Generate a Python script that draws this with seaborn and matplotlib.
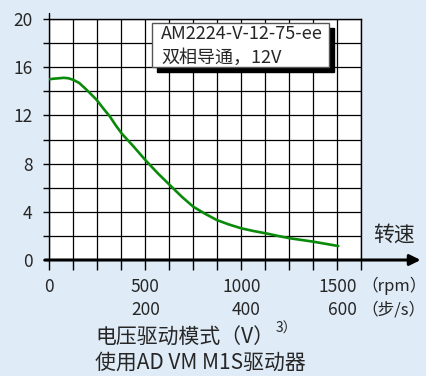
import matplotlib
matplotlib.use("Agg")
import matplotlib.pyplot as plt
import seaborn as sns
import numpy as np
import pandas as pd
from matplotlib.patches import Rectangle

# torque curve
speed_rpm = [0, 25, 50, 75, 100, 125, 155, 186, 215, 247, 280, 316, 345, 377,
             440, 500, 565, 629, 690, 750, 810, 872, 935, 1000, 1065, 1132,
             1190, 1254, 1315, 1375, 1440, 1505]
torque = [15.0, 15.05, 15.08, 15.12, 15.08, 14.95, 14.7, 14.25, 13.8, 13.28,
          12.6, 11.9, 11.2, 10.5, 9.4, 8.3, 7.2, 6.2, 5.25, 4.42, 3.85, 3.32,
          2.95, 2.63, 2.4, 2.2, 2.0, 1.8, 1.66, 1.52, 1.34, 1.16]

x_ticks = [0, 500, 1000, 1500]
x_tick_labels = ["0", "500\n200", "1000\n400", "1500\n600"]
y_ticks = [0, 4, 8, 12, 16, 20]
legend_lines = ["AM2224-V-12-75-ee", "双相导通，12V"]

bg = "#dfebf6"
green = "#0a8a0a"

sns.set_style("white")
plt.rcParams["font.family"] = ["Noto Sans CJK SC", "DejaVu Sans"]

fig = plt.figure(figsize=(4.26, 3.76), dpi=100, facecolor=bg)
ax = fig.add_axes([49.3 / 426, 116 / 376, 312 / 426, 241 / 376])
ax.set_facecolor("white")

df = pd.DataFrame({"rpm": speed_rpm, "torque": torque})
sns.lineplot(data=df, x="rpm", y="torque", ax=ax, color=green, lw=1.9,
             sort=False, zorder=3)

ax.set_xlim(0, 1625)
ax.set_ylim(0, 20)
ax.set_xlabel("")
ax.set_ylabel("")

ax.set_xticks(x_ticks)
ax.set_xticklabels(x_tick_labels, fontsize=12.5, linespacing=1.35)
for lab in ax.get_xticklabels():
    lab.set_multialignment("right")
ax.set_xticks(np.arange(0, 1626, 125), minor=True)
ax.set_yticks(y_ticks)
ax.set_yticklabels([str(v) for v in y_ticks], fontsize=12.5)
ax.set_yticks(np.arange(0, 21, 2), minor=True)

ax.tick_params(axis="x", which="both", direction="out", length=7, width=1,
               color="black", pad=6, bottom=True)
ax.tick_params(axis="y", which="both", direction="out", length=4, width=1,
               color="black", pad=8, left=True)
ax.grid(True, which="both", color="black", lw=0.9)
ax.set_axisbelow(True)
for s in ax.spines.values():
    s.set_color("black")
    s.set_linewidth(1)
ax.spines["bottom"].set_visible(False)

# left axis pokes a little above the grid
ax.plot([0, 0], [20, 20.5], color="black", lw=1, clip_on=False, zorder=4)

# thick x axis with arrow
ax.annotate("", xy=(1.19, 0), xytext=(-0.014, 0), xycoords="axes fraction",
            arrowprops=dict(arrowstyle="-|>", color="black", lw=2.2,
                            mutation_scale=16, shrinkA=0, shrinkB=0),
            annotation_clip=False, zorder=5)

# legend box with shadow
bx0, by0, bw, bh = 0.328, 0.801, 0.569, 0.184
ax.add_patch(Rectangle((bx0 + 0.017, by0 - 0.022), bw, bh, transform=ax.transAxes,
                       facecolor="black", edgecolor="black", zorder=6))
ax.add_patch(Rectangle((bx0, by0), bw, bh, transform=ax.transAxes,
                       facecolor="white", edgecolor="#555555", lw=1, zorder=7))
ax.text(bx0 + 0.03, 0.936, legend_lines[0], transform=ax.transAxes,
        fontsize=13, va="center", ha="left", zorder=8)
ax.text(bx0 + 0.03, 0.837, legend_lines[1], transform=ax.transAxes,
        fontsize=13, va="center", ha="left", zorder=8)

fig.text(394 / 426, 1 - 235 / 376, "转速", fontsize=15, ha="center", va="center")
fig.text(361 / 426, 1 - 286 / 376, "（rpm）", fontsize=12, ha="left", va="center")
fig.text(361 / 426, 1 - 310 / 376, "（步/s）", fontsize=12, ha="left", va="center")
fig.text(95 / 426, 1 - 338 / 376, "电压驱动模式（V）", fontsize=15, ha="left", va="center")
fig.text(276 / 426, 1 - 329 / 376, "3）", fontsize=10, ha="left", va="center")
fig.text(95 / 426, 1 - 363 / 376, "使用AD VM M1S驱动器", fontsize=15, ha="left", va="center")

fig.savefig("out.png", dpi=100, facecolor=bg)
